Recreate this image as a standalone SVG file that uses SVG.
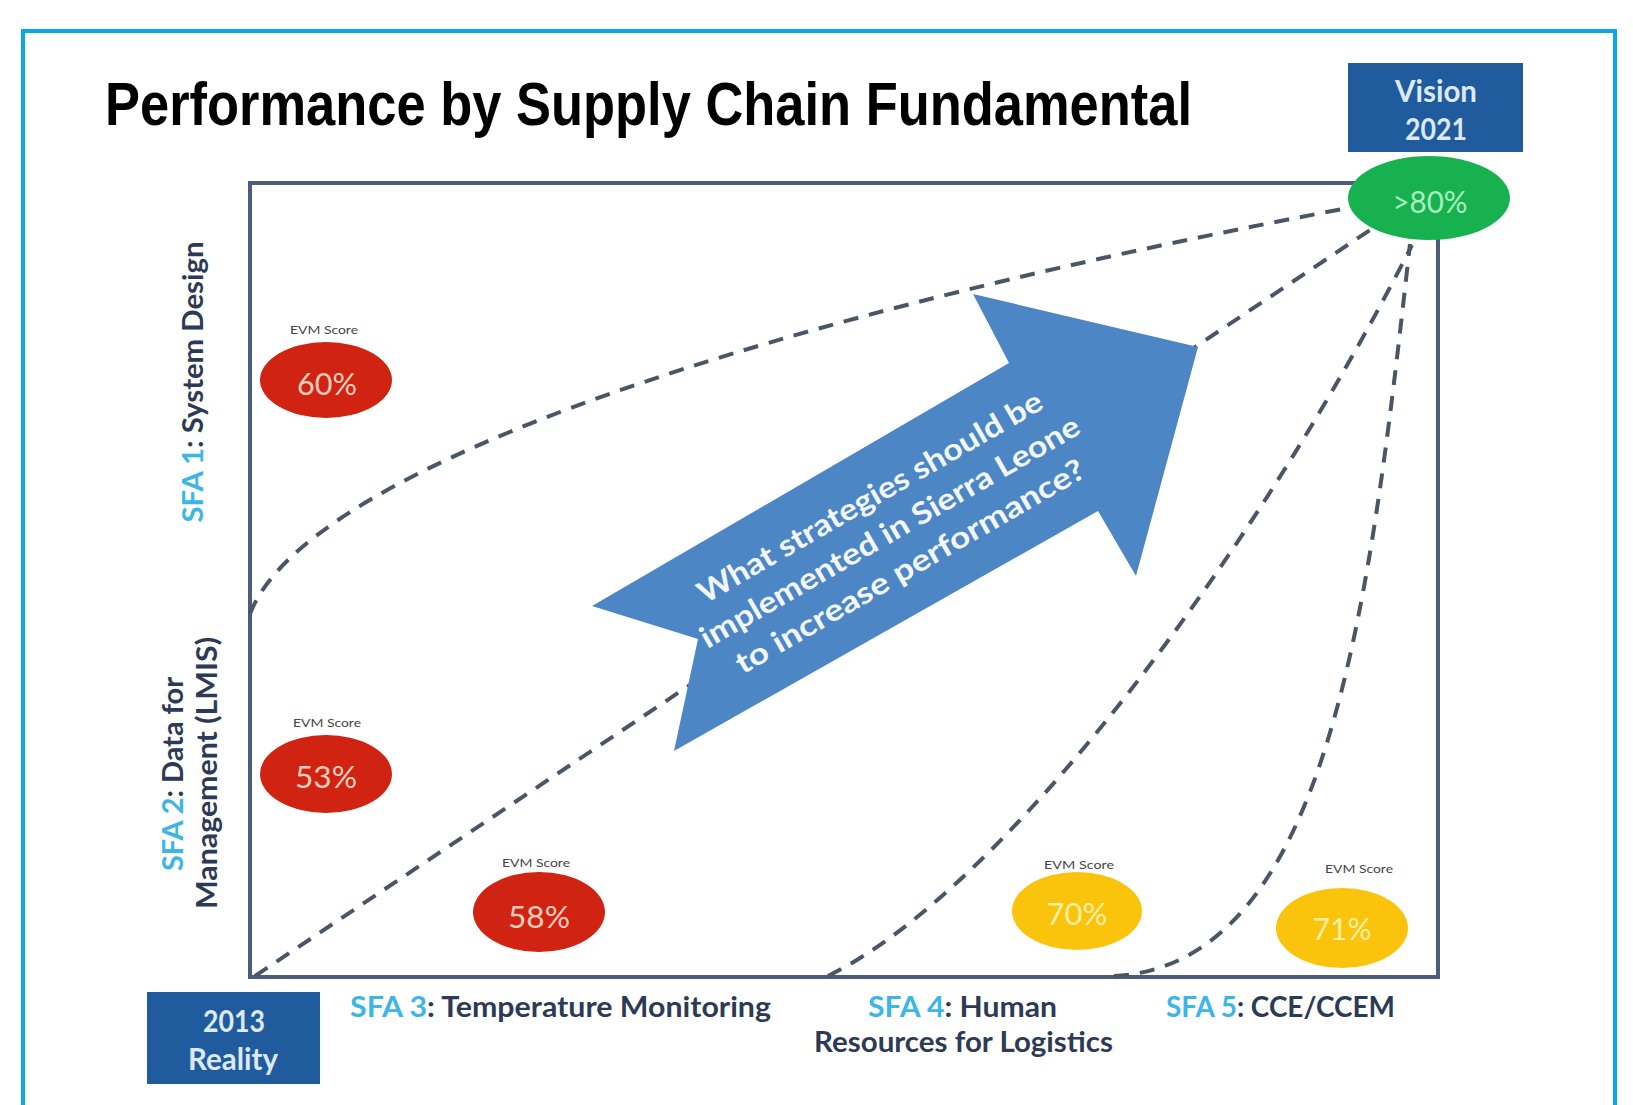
<svg xmlns="http://www.w3.org/2000/svg" width="1633" height="1105" viewBox="0 0 1633 1105">
<defs>
<style>
.lbl{font-family:Lato,"Open Sans","Liberation Sans",sans-serif;font-weight:700;font-size:29px;fill:#2d3a55}
.sfa{fill:#3db5e6}
.evm{font-family:Lato,"Liberation Sans",sans-serif;font-size:12px;fill:#444}
.pct{font-family:Lato,"Liberation Sans",sans-serif;font-size:31px;text-anchor:middle}
.box{fill:#1f5b9d}
.boxt{font-family:Lato,"Liberation Sans",sans-serif;font-weight:700;font-size:30px;fill:#dde9f6;text-anchor:middle}
.dash{fill:none;stroke:#4a5566;stroke-width:4;stroke-dasharray:15 11}
.red{fill:#d02311}
.yel{fill:#fbc40c}
</style>
</defs>
<rect width="1633" height="1105" fill="#ffffff"/>
<rect x="23" y="31" width="1592" height="1090" fill="none" stroke="#0aa8e8" stroke-width="4"/>
<text x="105" y="125" font-family="'Liberation Sans Narrow','Liberation Sans',Arial,sans-serif" font-weight="700" font-size="62" fill="#000" textLength="1087" lengthAdjust="spacingAndGlyphs">Performance by Supply Chain Fundamental</text>

<g id="plot-frame">
<rect x="250" y="183" width="1188" height="794" fill="none" stroke="#4b5d78" stroke-width="4"/>
</g>

<g id="connectors">
<path class="dash" d="M250,614 C300,480 700,330 1348,208"/>
<path class="dash" d="M255,976 L1373,228"/>
<path class="dash" d="M828,976 C1010,886 1260,545 1412,245"/>
<path class="dash" d="M1114,976 C1330,965 1370,600 1410,244"/>
</g>

<g id="arrow">
<polygon points="592,606 698,639 674,751 1098,511 1136,576 1198,347 973,294 1009,363" fill="#4d86c5"/>
<g transform="translate(897,528) rotate(-30)" font-family="Lato,'Open Sans','Liberation Sans',sans-serif" font-weight="700" font-size="30" fill="#f2f7fc" text-anchor="middle">
<text x="-8" y="-30" textLength="393" lengthAdjust="spacingAndGlyphs">What strategies should be</text>
<text x="-8" y="10" textLength="433" lengthAdjust="spacingAndGlyphs">implemented in Sierra Leone</text>
<text x="-8" y="50" textLength="398" lengthAdjust="spacingAndGlyphs">to increase performance?</text>
</g>
</g>

<g id="vision">
<rect class="box" x="1348" y="63" width="175" height="89"/>
<text class="boxt" x="1436" y="102" textLength="82" lengthAdjust="spacingAndGlyphs">Vision</text>
<text class="boxt" x="1436" y="140" textLength="62" lengthAdjust="spacingAndGlyphs">2021</text>
</g>

<g id="target">
<ellipse cx="1429" cy="198" rx="81" ry="42" fill="#17b24f"/>
<text class="pct" x="1430" y="213" fill="#a9efbd" textLength="75" lengthAdjust="spacingAndGlyphs">&gt;80%</text>
</g>

<g id="reality">
<rect class="box" x="147" y="992" width="173" height="92"/>
<text class="boxt" x="234" y="1032" textLength="62" lengthAdjust="spacingAndGlyphs">2013</text>
<text class="boxt" x="233" y="1070" textLength="90" lengthAdjust="spacingAndGlyphs">Reality</text>
</g>

<g id="sfa1-score">
<text class="evm" x="324" y="334" text-anchor="middle" textLength="68" lengthAdjust="spacingAndGlyphs">EVM Score</text>
<ellipse class="red" cx="326" cy="380" rx="66" ry="38"/>
<text class="pct" x="327" y="395" fill="#ffcdbd" textLength="60" lengthAdjust="spacingAndGlyphs">60%</text>
</g>

<g id="sfa2-score">
<text class="evm" x="327" y="727" text-anchor="middle" textLength="68" lengthAdjust="spacingAndGlyphs">EVM Score</text>
<ellipse class="red" cx="326" cy="774" rx="66" ry="39"/>
<text class="pct" x="326" y="788" fill="#ffcdbd" textLength="62" lengthAdjust="spacingAndGlyphs">53%</text>
</g>

<g id="sfa3-score">
<text class="evm" x="536" y="867" text-anchor="middle" textLength="68" lengthAdjust="spacingAndGlyphs">EVM Score</text>
<ellipse class="red" cx="539" cy="912" rx="66" ry="40"/>
<text class="pct" x="539" y="928" fill="#ffcdbd" textLength="62" lengthAdjust="spacingAndGlyphs">58%</text>
</g>

<g id="sfa4-score">
<text class="evm" x="1079" y="869" text-anchor="middle" textLength="70" lengthAdjust="spacingAndGlyphs">EVM Score</text>
<ellipse class="yel" cx="1077" cy="911" rx="65" ry="39"/>
<text class="pct" x="1077" y="925" fill="#fff0a3" textLength="61" lengthAdjust="spacingAndGlyphs">70%</text>
</g>

<g id="sfa5-score">
<text class="evm" x="1359" y="873" text-anchor="middle" textLength="68" lengthAdjust="spacingAndGlyphs">EVM Score</text>
<ellipse class="yel" cx="1342" cy="928" rx="66" ry="40"/>
<text class="pct" x="1342" y="940" fill="#fff0a3" textLength="59" lengthAdjust="spacingAndGlyphs">71%</text>
</g>

<g id="sfa1-label">
<text class="lbl" transform="translate(203,382) rotate(-90)" text-anchor="middle" textLength="281" lengthAdjust="spacingAndGlyphs"><tspan class="sfa">SFA 1</tspan>: System Design</text>
</g>

<g id="sfa2-label">
<text class="lbl" transform="translate(183,774) rotate(-90)" text-anchor="middle" textLength="194" lengthAdjust="spacingAndGlyphs"><tspan class="sfa">SFA 2</tspan>: Data for</text>
<text class="lbl" transform="translate(217,773) rotate(-90)" text-anchor="middle" textLength="272" lengthAdjust="spacingAndGlyphs">Management (LMIS)</text>
</g>

<g id="sfa3-label">
<text class="lbl" x="350" y="1017" textLength="421" lengthAdjust="spacingAndGlyphs"><tspan class="sfa">SFA 3</tspan>: Temperature Monitoring</text>
</g>

<g id="sfa4-label">
<text class="lbl" x="868" y="1017" textLength="189" lengthAdjust="spacingAndGlyphs"><tspan class="sfa">SFA 4</tspan>: Human</text>
<text class="lbl" x="814" y="1052" textLength="299" lengthAdjust="spacingAndGlyphs">Resources for Logistics</text>
</g>

<g id="sfa5-label">
<text class="lbl" x="1166" y="1017" textLength="229" lengthAdjust="spacingAndGlyphs"><tspan class="sfa">SFA 5</tspan>: CCE/CCEM</text>
</g>
</svg>
